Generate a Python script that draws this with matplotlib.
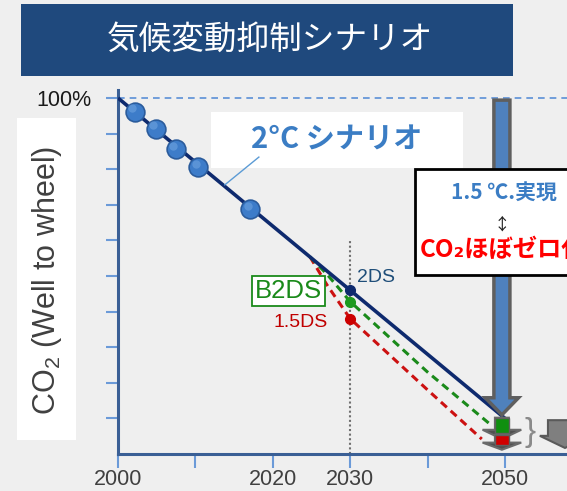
import matplotlib
matplotlib.use("Agg")
import matplotlib.pyplot as plt
from matplotlib.patches import Rectangle, FancyArrow

plt.rcParams['font.family'] = ['Liberation Sans', 'DejaVu Sans']
plt.rcParams['mathtext.default'] = 'regular'
JP = ['Noto Sans CJK JP', 'DejaVu Sans']

# ---- data ----
title = "気候変動抑制シナリオ"
ylabel = "CO$_2$ (Well to wheel)"
line_years = [2000, 2050]
line_vals = [100, 10]
hist_years = [2002.2, 2004.9, 2007.5, 2010.4, 2017.1]
hist_vals = [96.1, 91.3, 85.6, 80.6, 68.7]
b2ds_years = [2024.8, 2027, 2030, 2040, 2048]
b2ds_vals = [55.4, 50.5, 42.8, 23, 8.5]
ds15_years = [2024.8, 2027, 2030, 2040, 2047]
ds15_vals = [55.4, 47.5, 38, 18, 4.2]
mark_year = 2030
mark_2ds, mark_b2ds, mark_15ds = 46, 42.8, 38
target_year = 2050
xticks = [2000, 2010, 2020, 2030, 2040, 2050]
xticklabels = ["2000", "", "2020", "2030", "", "2050"]
yticks = [10, 20, 30, 40, 50, 60, 70, 80, 90, 100]
yticklabels = ["", "", "", "", "", "", "", "", "", "100%"]

W, H = 567, 491
fig = plt.figure(figsize=(W / 100, H / 100), dpi=100)
fig.patch.set_facecolor('#efefef')

# title banner
fig.patches.append(Rectangle((21 / W, 1 - 76 / H), (513 - 21) / W, 72 / H,
                             transform=fig.transFigure, facecolor='#1f497d',
                             edgecolor='none', zorder=0))
fig.text(270 / W, 1 - 40 / H, title, color='white', fontsize=23.5,
         family=JP, ha='center', va='center')

# y label box
fig.patches.append(Rectangle((17 / W, 1 - 440 / H), 59 / W, (440 - 118) / H,
                             transform=fig.transFigure, facecolor='white',
                             edgecolor='none', zorder=0))
fig.text(47 / W, 1 - 280 / H, ylabel, rotation=90, fontsize=22,
         color='#404040', ha='center', va='center')

ax = fig.add_axes([118 / W, 1 - 454 / H, 1 - 118 / W, (454 - 90) / H])
ax.set_facecolor('none')
ax.set_xlim(2000, 2000 + (W - 118) / 7.74)
ax.set_ylim(0, (454 - 90) / 3.56)
for s in ['top', 'right']:
    ax.spines[s].set_visible(False)
for s in ['left', 'bottom']:
    ax.spines[s].set_color('#3a5f95')
    ax.spines[s].set_linewidth(2.2)
ax.set_xticks(xticks)
ax.set_xticklabels(xticklabels)
ax.set_yticks(yticks)
ax.set_yticklabels(yticklabels)
ax.tick_params(axis='x', direction='out', length=10, width=1.5,
               color='#6b9ad8', labelsize=15.5, labelcolor='#404040', pad=1)
ax.tick_params(axis='y', direction='out', length=9, width=1.5,
               color='#6b9ad8', labelsize=15.5, labelcolor='#1a1a1a', pad=10)

# 100% dashed reference line
ax.axhline(100, color='#5b8fd6', lw=1.2, ls=(0, (4, 3)), zorder=1)

# vertical dotted line at 2030
ax.plot([mark_year, mark_year], [0, 60], color='#707070', lw=1.5,
        ls=(0, (1, 1.2)), zorder=2)

# scenario curves
ax.plot(ds15_years, ds15_vals, color='#cc1111', lw=2.2, ls=(0, (2.6, 1.7)), zorder=3)
ax.plot(b2ds_years, b2ds_vals, color='#1a8a1a', lw=2.2, ls=(0, (2.6, 1.7)), zorder=3)
ax.plot(line_years, line_vals, color='#0e2a6e', lw=2.6, zorder=4, solid_capstyle='butt')

# historical dots
ax.plot(hist_years, hist_vals, 'o', ms=13.5, mfc='#3d7cc9', mec='#2b5c9c',
        mew=1.2, zorder=5)
ax.plot([y - 0.35 for y in hist_years], [v + 1.0 for v in hist_vals], 'o',
        ms=6, mfc='#6fa3e0', mec='none', alpha=0.6, zorder=6)

# 2030 markers
ax.plot([mark_year], [mark_2ds], 'o', ms=7, color='#0e2a6e', zorder=6)
ax.plot([mark_year], [mark_b2ds], 'o', ms=7, color='#1e9a1e', zorder=6)
ax.plot([mark_year], [mark_15ds], 'o', ms=7, color='#cc0000', zorder=6)

ax.text(mark_year + 0.9, 49.7, "2DS", color='#1f4e79', fontsize=14,
        ha='left', va='center', zorder=7)
ax.text(2022.0, 45.8, "B2DS", color='#1a8a1a', fontsize=18.5, ha='center',
        va='center', zorder=7,
        bbox=dict(boxstyle='square,pad=0.12', fc='white', ec='#1a8a1a', lw=1.3))
ax.text(2023.6, 36.8, "1.5DS", color='#c00000', fontsize=14,
        ha='center', va='center', zorder=7)

# 2°C scenario label
ax.add_patch(Rectangle((2012.0, 80.3), 32.6, 15.8, fc='white', ec='none', zorder=3))
ax.plot([2018.2, 2013.8], [83.4, 75.6], color='#5b9bd5', lw=1, zorder=4)
ax.text(2028.3, 88.3, "2°C シナリオ", color='#3b7dc4', fontsize=21,
        fontweight='bold', family=JP, ha='center', va='center', zorder=5)

# big blue arrow
ax.add_patch(FancyArrow(target_year - 0.4, 99.4, 0, -88.4, width=2.07,
                        head_width=4.3, head_length=4.8,
                        length_includes_head=True, fc='#4f81bd', ec='#5f5f5f',
                        lw=2.5, zorder=6, clip_on=False))

# result box
ax.add_patch(Rectangle((2038.4, 50.3), 30, 29.8, fc='white', ec='black',
                       lw=2, zorder=8, clip_on=False))
ax.text(target_year - 0.2, 73.3, "1.5 ℃.実現", color='#3b7dc4', fontsize=15,
        fontweight='bold', family=JP, ha='center', va='center', zorder=9,
        clip_on=False)
ax.text(target_year - 0.4, 64.3, "↕", color='#222222', fontsize=12,
        family=JP, ha='center', va='center', zorder=9, clip_on=False)
ax.text(2039.0, 57.3, "CO₂ほぼゼロ化", color='#ff0000', fontsize=17.5,
        fontweight='bold', family=JP, ha='left', va='center', zorder=9,
        clip_on=False)

# small green / red arrows at 2050
for top, length, hl, col in [(10.2, 6.0, 2.6, '#0f8f0f'), (5.4, 4.2, 2.0, '#d00000')]:
    ax.add_patch(FancyArrow(target_year - 0.4, top, 0, -length, width=1.8,
                            head_width=5.0, head_length=hl,
                            length_includes_head=True, fc='#505050', ec='#6a6a6a',
                            lw=1.5, zorder=7, clip_on=False))
    ax.add_patch(Rectangle((target_year - 0.4 - 0.9, top - length + hl * 0.7), 1.8,
                           length - hl * 0.7, fc=col, ec='#606060', lw=1,
                           zorder=8, clip_on=False))

# brace and grey arrow
ax.text(2053.2, 5.9, "}", color='#8a8a8a', fontsize=24, ha='center',
        va='center', zorder=7, clip_on=False)
ax.add_patch(FancyArrow(2057.75, 9.5, 0, -7.8, width=4.4, head_width=6.5,
                        head_length=3.4, length_includes_head=True,
                        fc='#7f7f7f', ec='#5a5a5a', lw=1.5, zorder=7,
                        clip_on=False))

fig.savefig("out.png", dpi=100, facecolor=fig.get_facecolor())
